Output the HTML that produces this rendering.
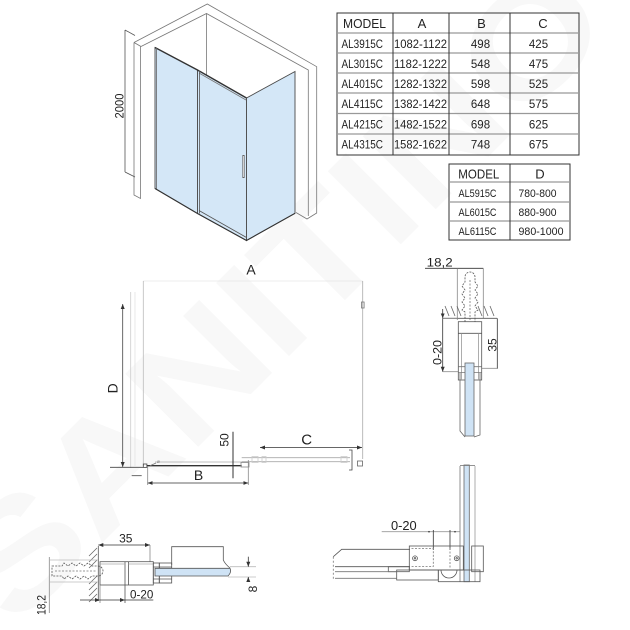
<!DOCTYPE html>
<html>
<head>
<meta charset="utf-8">
<style>
  html,body{margin:0;padding:0;background:#fff;width:630px;height:630px;overflow:hidden;}
  #wrap{width:630px;height:630px;overflow:hidden;position:relative;}
  svg{display:block;overflow:hidden;}
  text{font-family:"Liberation Sans",sans-serif;fill:#222;}
</style>
</head>
<body>
<div id="wrap">
<svg width="630" height="630" viewBox="0 0 630 630" xmlns="http://www.w3.org/2000/svg">
  <defs>
    <marker id="a" markerWidth="6" markerHeight="6" refX="5" refY="3" orient="auto-start-reverse" markerUnits="userSpaceOnUse">
      <path d="M0,1 L5,3 L0,5z" fill="#333"/>
    </marker>
    <clipPath id="cp"><rect width="630" height="630"/></clipPath>
  </defs>
  <g clip-path="url(#cp)">
  <rect width="630" height="630" fill="#fff"/>

  <!-- faint watermark -->
  <text x="15" y="630" transform="rotate(-45 15 630)" font-size="150" font-weight="bold" textLength="850" lengthAdjust="spacingAndGlyphs" style="fill:#f8f8f8">SANITINO</text>

  <!-- ================= SHOWER ISOMETRIC ================= -->
  <g stroke="#777" stroke-width="0.8" fill="none">
    <path d="M134,42.5 L207.3,4 L316.7,66.7 L316.7,213 L307,219 L296,212.5"/>
    <path d="M141,46.5 L206.5,13.5 L308.3,70 L308.3,216"/>
    <path d="M134,42.5 L141,46.5 M134,42.5 L134,195 L140.5,198.5 L140.5,46.5"/>
    <path d="M206.5,13.5 L206.5,100"/>
    <path d="M125,30 L125,172 M125,30 L135,35.5 M125,172 L135,177" stroke="#555"/>
  </g>
  <text transform="translate(123.5,106) rotate(-90)" font-size="11.5" text-anchor="middle" textLength="25" lengthAdjust="spacingAndGlyphs">2000</text>

  <!-- glass panels -->
  <g stroke="#4a4a4a" stroke-width="0.9" fill="#d4e7f7">
    <path d="M155,47.5 L197.5,70 L197.5,213.5 L155,188.5z"/>
    <path d="M197.5,70 L246.5,98 L246.5,240.5 L197.5,213.5z"/>
    <path d="M246.5,98 L295,71.5 L295,213.3 L246.5,240.5z"/>
  </g>
  <g stroke="#333" fill="none">
    <path d="M155,47.5 L197.5,70 L246.5,98" stroke-width="1.3"/>
    <path d="M199,73 L246,100" stroke="#777" stroke-width="0.8"/>
    <path d="M199.5,70.5 L199.5,213.5" stroke="#555" stroke-width="0.8"/>
    <path d="M156.5,48 L156.5,189" stroke="#666" stroke-width="0.8"/>
    <path d="M199,210.5 L246.5,237.5" stroke="#555" stroke-width="0.8"/>
    <path d="M155,188.5 L197.5,213.5 L246.5,240.5 L295,213.3" stroke-width="1.1"/>
    <path d="M243.5,155 L243.5,178" stroke="#666" stroke-width="2.2"/>
    <path d="M243.5,156 L243.5,177" stroke="#eee" stroke-width="0.8"/>
  </g>

  <!-- ================= TABLE 1 ================= -->
  <g fill="none">
    <rect x="337" y="13" width="242" height="142" stroke="#333" stroke-width="1"/>
    <g stroke="#999" stroke-width="1.3">
      <line x1="337" y1="33" x2="579" y2="33"/>
      <line x1="337" y1="53" x2="579" y2="53"/>
      <line x1="337" y1="73" x2="579" y2="73"/>
      <line x1="337" y1="93" x2="579" y2="93"/>
      <line x1="337" y1="113.5" x2="579" y2="113.5"/>
      <line x1="337" y1="134" x2="579" y2="134"/>
    </g>
    <g stroke="#333" stroke-width="1">
      <line x1="393" y1="13" x2="393" y2="155"/>
      <line x1="449" y1="13" x2="449" y2="155"/>
      <line x1="510" y1="13" x2="510" y2="155"/>
    </g>
  </g>
  <g font-size="13">
    <text x="343" y="28" textLength="43" lengthAdjust="spacingAndGlyphs">MODEL</text>
    <text x="422" y="28" text-anchor="middle">A</text>
    <text x="481.5" y="28" text-anchor="middle">B</text>
    <text x="543" y="28" text-anchor="middle">C</text>
  </g>
  <g font-size="11.5">
    <text x="341.5" y="48" textLength="41.5" lengthAdjust="spacingAndGlyphs">AL3915C</text>
    <text x="394" y="48" textLength="53" lengthAdjust="spacingAndGlyphs">1082-1122</text>
    <text x="480.5" y="48" text-anchor="middle">498</text>
    <text x="538.5" y="48" text-anchor="middle">425</text>

    <text x="341.5" y="68" textLength="41.5" lengthAdjust="spacingAndGlyphs">AL3015C</text>
    <text x="394" y="68" textLength="53" lengthAdjust="spacingAndGlyphs">1182-1222</text>
    <text x="480.5" y="68" text-anchor="middle">548</text>
    <text x="538.5" y="68" text-anchor="middle">475</text>

    <text x="341.5" y="88" textLength="41.5" lengthAdjust="spacingAndGlyphs">AL4015C</text>
    <text x="394" y="88" textLength="53" lengthAdjust="spacingAndGlyphs">1282-1322</text>
    <text x="480.5" y="88" text-anchor="middle">598</text>
    <text x="538.5" y="88" text-anchor="middle">525</text>

    <text x="341.5" y="108" textLength="41.5" lengthAdjust="spacingAndGlyphs">AL4115C</text>
    <text x="394" y="108" textLength="53" lengthAdjust="spacingAndGlyphs">1382-1422</text>
    <text x="480.5" y="108" text-anchor="middle">648</text>
    <text x="538.5" y="108" text-anchor="middle">575</text>

    <text x="341.5" y="128.5" textLength="41.5" lengthAdjust="spacingAndGlyphs">AL4215C</text>
    <text x="394" y="128.5" textLength="53" lengthAdjust="spacingAndGlyphs">1482-1522</text>
    <text x="480.5" y="128.5" text-anchor="middle">698</text>
    <text x="538.5" y="128.5" text-anchor="middle">625</text>

    <text x="341.5" y="148.5" textLength="41.5" lengthAdjust="spacingAndGlyphs">AL4315C</text>
    <text x="394" y="148.5" textLength="53" lengthAdjust="spacingAndGlyphs">1582-1622</text>
    <text x="480.5" y="148.5" text-anchor="middle">748</text>
    <text x="538.5" y="148.5" text-anchor="middle">675</text>
  </g>

  <!-- ================= TABLE 2 ================= -->
  <g fill="none">
    <rect x="449" y="164" width="121" height="76" stroke="#333" stroke-width="1"/>
    <g stroke="#999" stroke-width="1.3">
      <line x1="449" y1="182" x2="570" y2="182"/>
      <line x1="449" y1="202" x2="570" y2="202"/>
      <line x1="449" y1="221" x2="570" y2="221"/>
    </g>
    <line x1="510" y1="164" x2="510" y2="240" stroke="#333"/>
  </g>
  <g font-size="13">
    <text x="458.3" y="178.5" textLength="41" lengthAdjust="spacingAndGlyphs">MODEL</text>
    <text x="540" y="178.5" text-anchor="middle">D</text>
  </g>
  <g font-size="11">
    <text x="458.5" y="197" textLength="38" lengthAdjust="spacingAndGlyphs">AL5915C</text>
    <text x="518.5" y="197" textLength="38" lengthAdjust="spacingAndGlyphs">780-800</text>
    <text x="458.5" y="216" textLength="38" lengthAdjust="spacingAndGlyphs">AL6015C</text>
    <text x="518.5" y="216" textLength="38" lengthAdjust="spacingAndGlyphs">880-900</text>
    <text x="458.5" y="235" textLength="38" lengthAdjust="spacingAndGlyphs">AL6115C</text>
    <text x="518.5" y="235" textLength="45" lengthAdjust="spacingAndGlyphs">980-1000</text>
  </g>

  <!-- ================= PLAN VIEW ================= -->
  <text x="251" y="274.5" font-size="14" text-anchor="middle">A</text>
  <g fill="none" stroke-width="0.8">
    <line x1="143.3" y1="281" x2="362.7" y2="281" stroke="#e6e6e6"/>
    <line x1="143.3" y1="281" x2="143.3" y2="466" stroke="#bbb"/>
    <line x1="130.7" y1="292" x2="130.7" y2="468" stroke="#ccc"/>
    <line x1="135" y1="292" x2="135" y2="466" stroke="#e2e2e2"/>
    <line x1="362.7" y1="281" x2="362.7" y2="459" stroke="#aaa"/>
    <rect x="361.5" y="302" width="2.6" height="6" stroke="#777"/>
    <line x1="122.7" y1="304" x2="122.7" y2="467" stroke="#444" marker-start="url(#a)" marker-end="url(#a)"/>
    <line x1="110" y1="467.3" x2="143.3" y2="467.3" stroke="#444"/>
    <line x1="131.7" y1="475.7" x2="141.7" y2="475.7" stroke="#444"/>
    <rect x="143.3" y="464" width="3.6" height="3.4" stroke="#444"/>
    <!-- fixed panel -->
    <line x1="146.7" y1="465.7" x2="241.7" y2="465.7" stroke="#333" stroke-width="1.3"/>
    <line x1="155" y1="462" x2="241.7" y2="462" stroke="#aaa"/>
    <!-- sliding panel -->
    <line x1="241.7" y1="457.7" x2="350" y2="457.7" stroke="#aaa"/>
    <line x1="241.7" y1="461.7" x2="350" y2="461.7" stroke="#aaa"/>
    <rect x="252" y="456.5" width="6" height="6" stroke="#ccc"/>
    <rect x="262" y="456.5" width="4" height="6" stroke="#ccc"/>
    <rect x="341" y="456.5" width="6" height="6" stroke="#ccc"/>
    <rect x="241" y="462.5" width="8" height="4.5" stroke="#888"/>
    <path d="M349,450 L352,450 L352,470 L349,470" stroke="#444"/>
    <rect x="357.5" y="461" width="5" height="5" stroke="#666"/>
    <!-- 50 -->
    <line x1="233" y1="431.7" x2="233" y2="478.3" stroke="#333" stroke-width="1"/>
    <!-- C -->
    <line x1="260" y1="447.5" x2="362" y2="447.5" stroke="#333" marker-start="url(#a)" marker-end="url(#a)"/>
    <!-- B -->
    <line x1="147.7" y1="466" x2="147.7" y2="485" stroke="#888"/>
    <line x1="248.3" y1="460" x2="248.3" y2="485" stroke="#888"/>
    <line x1="147.7" y1="483" x2="248.3" y2="483" stroke="#333" marker-start="url(#a)" marker-end="url(#a)"/>
    <line x1="150" y1="465.7" x2="156" y2="463" stroke="#777"/>
  </g>
  <text transform="translate(117.5,388.3) rotate(-90)" font-size="14" text-anchor="middle">D</text>
  <text transform="translate(228.5,440) rotate(-90)" font-size="12" text-anchor="middle">50</text>
  <text x="306.7" y="444.3" font-size="15" text-anchor="middle">C</text>
  <text x="198.5" y="480" font-size="14" text-anchor="middle">B</text>
  <text x="157" y="463" font-size="3.5" style="fill:#666">Ø</text>

  <!-- ================= TOP RIGHT PROFILE ================= -->
  <text x="426.7" y="266.7" font-size="12" textLength="26" lengthAdjust="spacingAndGlyphs">18,2</text>
  <g fill="none" stroke-width="0.8">
    <line x1="425" y1="268.3" x2="483.3" y2="268.3" stroke="#333"/>
    <line x1="457.3" y1="268.3" x2="457.3" y2="320" stroke="#888"/>
    <line x1="483.3" y1="268.3" x2="483.3" y2="318" stroke="#888"/>
    <!-- plug -->
    <path d="M465,322 L465,312 L462,310 L465,306 L462,302 L465,298 L462,294 L465,290 L462,286 L465,282 L465,277 A5,5 0 0 1 475,277 L475,282 L478,286 L475,290 L478,294 L475,298 L478,302 L475,306 L478,310 L475,312 L475,322" stroke="#555" stroke-dasharray="2 1.2"/>
    <line x1="470" y1="280" x2="470" y2="320" stroke="#777" stroke-dasharray="2 1.5"/>
    <!-- hatch -->
    <g stroke="#666">
      <line x1="445" y1="306" x2="449" y2="316"/>
      <line x1="451" y1="306" x2="455" y2="316"/>
      <line x1="457" y1="306" x2="461" y2="316"/>
      <line x1="478" y1="306" x2="482" y2="316"/>
      <line x1="484" y1="306" x2="488" y2="316"/>
      <line x1="490" y1="306" x2="494" y2="316"/>
    </g>
    <line x1="443" y1="318.3" x2="497" y2="318.3" stroke="#555"/>
    <!-- profile -->
    <rect x="458.3" y="321.7" width="23.4" height="58.3" stroke="#555"/>
    <line x1="458.3" y1="333.3" x2="481.7" y2="333.3" stroke="#555"/>
    <line x1="461.5" y1="333.3" x2="461.5" y2="380" stroke="#999"/>
    <line x1="478.5" y1="333.3" x2="478.5" y2="380" stroke="#999"/>
    <line x1="458.3" y1="366.7" x2="481.7" y2="366.7" stroke="#777"/>
    <line x1="458.3" y1="372.5" x2="481.7" y2="372.5" stroke="#777"/>
    <!-- panel -->
    <path d="M460,373 L460,431 L465,437 M480,373 L480,435 L474,437" stroke="#666"/>
    <rect x="465" y="363" width="9" height="73" fill="#cfe3f5" stroke="#666"/>
    <!-- dims -->
    <line x1="442.7" y1="318.3" x2="458" y2="318.3" stroke="#888"/>
    <line x1="442.7" y1="371.7" x2="458" y2="371.7" stroke="#888"/>
    <line x1="442.7" y1="309" x2="442.7" y2="318.3" stroke="#333" marker-end="url(#a)"/>
    <line x1="442.7" y1="318.3" x2="442.7" y2="371.7" stroke="#333" marker-end="url(#a)"/>
    <line x1="482" y1="368.3" x2="498" y2="368.3" stroke="#888"/>
    <line x1="497.3" y1="318.3" x2="497.3" y2="368.3" stroke="#333"/>
  </g>
  <text transform="translate(441.7,352.5) rotate(-90)" font-size="12" text-anchor="middle" textLength="25" lengthAdjust="spacingAndGlyphs">0-20</text>
  <text transform="translate(496.7,345) rotate(-90)" font-size="12" text-anchor="middle">35</text>

  <!-- ================= BOTTOM LEFT DETAIL ================= -->
  <text x="125.8" y="542.7" font-size="12" text-anchor="middle">35</text>
  <g fill="none" stroke-width="0.8">
    <line x1="98.3" y1="545" x2="150" y2="545" stroke="#333" marker-start="url(#a)" marker-end="url(#a)"/>
    <line x1="150" y1="545" x2="150" y2="562" stroke="#888"/>
    <!-- wall -->
    <line x1="98.3" y1="546" x2="98.3" y2="601" stroke="#555"/>
    <g stroke="#666">
      <line x1="89" y1="556" x2="97" y2="548"/>
      <line x1="89" y1="562" x2="97" y2="554"/>
      <line x1="89" y1="568" x2="97" y2="560"/>
      <line x1="89" y1="584" x2="97" y2="576"/>
      <line x1="89" y1="590" x2="97" y2="582"/>
      <line x1="89" y1="596" x2="97" y2="588"/>
      <line x1="89" y1="602" x2="97" y2="594"/>
    </g>
    <!-- plug box -->
    <line x1="49.3" y1="557" x2="49.3" y2="613" stroke="#888"/>
    <line x1="49.3" y1="560" x2="98" y2="560" stroke="#bbb"/>
    <line x1="49.3" y1="582" x2="98" y2="582" stroke="#bbb"/>
    <path d="M52,566 L62,566 L64,563 L68,566 L72,563 L76,566 L80,563 L84,566 L88,563 L92,566 L98,566 A5,5 0 0 1 98,576 L92,576 L88,579 L84,576 L80,579 L76,576 L72,579 L68,576 L64,579 L62,576 L52,576z" stroke="#555" stroke-dasharray="2 1.2"/>
    <line x1="55" y1="571" x2="96" y2="571" stroke="#777" stroke-dasharray="2 1.5"/>
    <!-- profile -->
    <rect x="100" y="561.7" width="53.3" height="23.3" stroke="#555"/>
    <line x1="125" y1="561.7" x2="125" y2="603" stroke="#555"/>
    <line x1="128.5" y1="561.7" x2="128.5" y2="585" stroke="#555"/>
    <line x1="100" y1="564" x2="125" y2="564" stroke="#aaa"/>
    <line x1="128.5" y1="564" x2="153.3" y2="564" stroke="#aaa"/>
    <!-- hardware -->
    <rect x="153.3" y="563" width="6" height="20" stroke="#555"/>
    <rect x="159.3" y="563" width="12.4" height="20" stroke="#555"/>
    <line x1="153.3" y1="567" x2="171.7" y2="567" stroke="#555"/>
    <line x1="153.3" y1="579" x2="171.7" y2="579" stroke="#555"/>
    <!-- upper block -->
    <path d="M171.7,565 L171.7,546.7 L223.3,546.7 L223.3,560 Q225,564 230,568" stroke="#555"/>
    <!-- glass -->
    <path d="M155,568.3 L230,568.3 Q232,572 228,576 L155,576z" fill="#cfe3f5" stroke="#555"/>
    <line x1="230" y1="566.7" x2="256" y2="566.7" stroke="#bbb"/>
    <line x1="228" y1="577" x2="256" y2="577" stroke="#bbb"/>
    <!-- 8 -->
    <line x1="248.3" y1="556.7" x2="248.3" y2="566.7" stroke="#333" marker-end="url(#a)"/>
    <line x1="248.3" y1="581.7" x2="248.3" y2="577" stroke="#333" marker-end="url(#a)"/>
    <!-- 0-20 -->
    <line x1="80" y1="600" x2="100" y2="600" stroke="#333" marker-end="url(#a)"/>
    <line x1="100" y1="585" x2="100" y2="603" stroke="#888"/>
    <line x1="100" y1="600" x2="125" y2="600" stroke="#333" marker-end="url(#a)"/>
    <line x1="125" y1="600" x2="153.3" y2="600" stroke="#333"/>
  </g>
  <text transform="translate(45.7,605) rotate(-90)" font-size="12" text-anchor="middle" textLength="20" lengthAdjust="spacingAndGlyphs">18,2</text>
  <text x="130" y="598.3" font-size="12" textLength="23.3" lengthAdjust="spacingAndGlyphs">0-20</text>
  <text transform="translate(257,589) rotate(-90)" font-size="12" text-anchor="middle">8</text>

  <!-- ================= BOTTOM RIGHT DETAIL ================= -->
  <text x="391" y="530" font-size="13" textLength="25.7" lengthAdjust="spacingAndGlyphs">0-20</text>
  <g fill="none" stroke-width="0.8">
    <line x1="381.7" y1="531.7" x2="460" y2="531.7" stroke="#999"/>
    <circle cx="429" cy="531.7" r="0.8" fill="#333" stroke="none"/>
    <circle cx="455" cy="531.7" r="0.8" fill="#333" stroke="none"/>
    <line x1="433.3" y1="530" x2="433.3" y2="550" stroke="#333"/>
    <line x1="450" y1="530" x2="450" y2="550" stroke="#333"/>
    <!-- vertical glass -->
    <line x1="460" y1="466" x2="460" y2="582" stroke="#777"/>
    <line x1="475" y1="466" x2="475" y2="582" stroke="#999"/>
    <rect x="464" y="465" width="5.3" height="116.7" fill="#cfe3f5" stroke="#666"/>
    <line x1="460" y1="465.5" x2="475" y2="465.5" stroke="#777"/>
    <!-- panel bar -->
    <path d="M410,549.3 L341.7,549.3 L333.3,556.7" stroke="#555"/>
    <line x1="333.3" y1="556.7" x2="333.3" y2="580" stroke="#777" stroke-dasharray="2 2"/>
    <line x1="335" y1="566.7" x2="410" y2="566.7" stroke="#555"/>
    <!-- bracket -->
    <rect x="409.3" y="546" width="54" height="24" stroke="#555"/>
    <path d="M411.5,548.5 L433.3,548.5 L433.3,566.5 L411.5,566.5" stroke="#777" stroke-dasharray="2 1.5"/>
    <line x1="450" y1="548" x2="450" y2="568" stroke="#777" stroke-dasharray="2 1.5"/>
    <circle cx="415" cy="558.3" r="2.4" stroke="#555"/>
    <circle cx="415" cy="558.3" r="0.8" stroke="#555"/>
    <circle cx="456.7" cy="558.3" r="2.4" stroke="#555"/>
    <circle cx="456.7" cy="558.3" r="0.8" stroke="#555"/>
    <rect x="471.7" y="546" width="11.6" height="25.7" stroke="#555"/>
    <!-- lower steps -->
    <rect x="388.3" y="566.7" width="21" height="5" stroke="#555"/>
    <rect x="396.7" y="570" width="41.6" height="10" stroke="#555"/>
    <rect x="438.3" y="570" width="41.7" height="11.7" stroke="#555"/>
    <path d="M441,570 A8,8 0 0 0 457,570" stroke="#555"/>
    <line x1="335" y1="571.7" x2="396.7" y2="571.7" stroke="#777"/>
    <line x1="335" y1="578.3" x2="396.7" y2="578.3" stroke="#777"/>
  </g>
  </g>
</svg>
</div>
</body>
</html>
